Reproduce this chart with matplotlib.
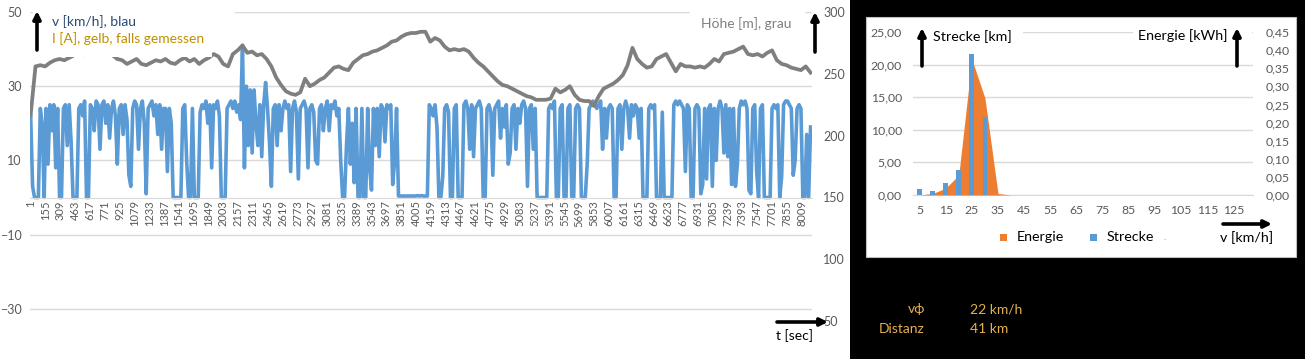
import numpy as np
import matplotlib
matplotlib.use('Agg')
import matplotlib.pyplot as plt
from matplotlib.patches import Rectangle, FancyArrowPatch
from matplotlib.ticker import FuncFormatter

plt.rcParams['font.family'] = ['Lato', 'DejaVu Sans']

# ---------------- data: time series (left chart) ----------------
speed_step = 20      # seconds between stored speed samples
speed_kmh = [
    22, 3, 0, 0, 0, 24, 20, 0, 24, 9, 25, 18, 25, 8, 24, 0, 0, 24, 25, 14,
    25, 15, 0, 0, 0, 24, 25, 22, 26, 0, 0, 25, 24, 18, 26, 25, 13, 25, 26, 20,
    25, 16, 24, 26, 22, 9, 24, 25, 17, 25, 21, 6, 3, 24, 26, 25, 13, 24, 26, 20,
    1, 24, 25, 26, 22, 25, 17, 25, 13, 24, 24, 7, 24, 20, 0, 0, 0, 0, 0, 24,
    25, 10, 0, 0, 24, 0, 0, 0, 23, 25, 24, 26, 20, 25, 8, 25, 24, 26, 22, 0,
    0, 0, 24, 25, 26, 24, 26, 23, 25, 21, 41, 8, 30, 14, 29, 12, 29, 20, 14, 25,
    11, 25, 31, 24, 15, 3, 24, 25, 14, 25, 18, 24, 26, 24, 25, 7, 24, 26, 23, 5,
    24, 25, 26, 24, 8, 24, 25, 23, 10, 9, 24, 25, 18, 24, 26, 18, 25, 24, 26, 22,
    24, 10, 0, 0, 14, 24, 9, 20, 4, 24, 0, 0, 24, 0, 0, 24, 8, 2, 24, 14,
    24, 11, 25, 24, 15, 25, 24, 25, 3.5, 10, 24, 0.4, 0.4, 0.4, 0.4, 0.4, 0.4, 0.4, 0.4, 0.4,
    0.4, 0.5, 0.4, 0.5, 0.4, 0.4, 0.4, 25, 24, 22, 25, 19, 0, 0, 5.7, 24, 25, 23, 0, 0,
    24, 25, 0, 0, 0, 25, 26, 24, 13, 25, 11, 24, 25, 26, 24, 0, 0, 24, 25, 23,
    6, 24, 25, 26, 16, 24, 19, 25, 9, 12, 24, 25, 13, 24, 20, 25, 26, 24, 3, 24,
    25, 13, 24, 0, 0, 0, 0, 0, 0, 24, 25, 24, 26, 0, 0, 24, 25, 0, 0, 24,
    25, 0, 0, 24, 25, 24, 0, 0, 0, 9, 24, 25, 26, 25, 24, 25, 26, 13, 24, 16,
    24, 25, 24, 0, 0, 24, 25, 13, 24, 26, 24, 16, 25, 22, 25, 24, 16, 24, 0, 0,
    0, 24, 25, 24, 25, 0, 0, 0, 23, 0, 0, 0, 0, 0, 25, 26, 25, 26, 25, 24,
    7, 25, 24, 0, 0, 24, 25, 24, 1, 3.5, 24, 5, 24, 25, 3, 24, 10, 24, 26, 24,
    12, 25, 11, 24, 3.5, 24, 3, 9, 24, 26, 25, 26, 24, 2, 1, 24, 25, 7, 0, 24,
    25, 0, 0, 0, 0, 24, 25, 24, 25, 0, 5.7, 25, 26, 26, 25, 24, 6, 10, 24, 25,
    24, 0, 0, 17, 0, 19,
]

height_step = 50     # seconds between stored height samples
height_m = [
    217, 256, 257, 256, 259, 261, 262, 261, 263, 265,
    266, 265, 267, 266, 268, 266, 267, 265, 262, 261,
    258, 260, 262, 258, 257, 259, 261, 260, 262, 259,
    258, 261, 263, 260, 262, 258, 261, 263, 266, 264,
    258, 256, 266, 269, 273, 267, 268, 265, 266, 262,
    256, 247, 241, 236, 234, 233, 235, 246, 240, 242,
    245, 247, 251, 255, 256, 254, 253, 259, 262, 265,
    266, 268, 269, 271, 273, 276, 277, 280, 282, 283,
    283, 284, 284, 276, 279, 277, 272, 269, 270, 269,
    270, 268, 263, 259, 256, 252, 248, 244, 241, 240,
    238, 236, 234, 232, 231, 229, 229, 229, 230, 238,
    235, 237, 240, 233, 229, 228, 228, 224, 232, 238,
    240, 242, 245, 249, 257, 271, 262, 258, 255, 256,
    262, 264, 266, 259, 252, 258, 256, 256, 255, 256,
    255, 258, 262, 260, 266, 267, 268, 270, 272, 266,
    265, 266, 264, 267, 269, 261, 258, 257, 255, 254,
    253, 256, 251,
]

time_tick_labels = [1, 155, 309, 463, 617, 771, 925, 1079, 1233, 1387, 1541,
                    1695, 1849, 2003, 2157, 2311, 2465, 2619, 2773, 2927, 3081,
                    3235, 3389, 3543, 3697, 3851, 4005, 4159, 4313, 4467, 4621,
                    4775, 4929, 5083, 5237, 5391, 5545, 5699, 5853, 6007, 6161,
                    6315, 6469, 6623, 6777, 6931, 7085, 7239, 7393, 7547, 7701,
                    7855, 8009]
speed_axis_ticks = [-30, -10, 10, 30, 50]
height_axis_ticks = [50, 100, 150, 200, 250, 300]

# ---------------- data: histogram (right chart) ----------------
speed_classes = [5, 10, 15, 20, 25, 30, 35, 40, 45, 50, 55, 60, 65, 70, 75,
                 80, 85, 90, 95, 100, 105, 110, 115, 120, 125, 130]
strecke_km = [0.9, 0.6, 1.8, 3.8, 21.6, 11.9, 0.0, 0.0, 0.0, 0.0, 0.0, 0.0, 0.0,
              0.0, 0.0, 0.0, 0.0, 0.0, 0.0, 0.0, 0.0, 0.0, 0.0, 0.0, 0.0, 0.0]
energie_kwh = [0.0, 0.004, 0.019, 0.055, 0.375, 0.268, 0.004, 0.0, 0.0, 0.0,
               0.0, 0.0, 0.0, 0.0, 0.0, 0.0, 0.0, 0.0, 0.0, 0.0, 0.0, 0.0, 0.0,
               0.0, 0.0, 0.0]

summary_labels = ['v\u03d5', 'Distanz']
summary_values = ['22 km/h', '41 km']

# ---------------- layout helpers ----------------
W, H = 1305, 359
fig = plt.figure(figsize=(W / 100, H / 100), dpi=100)
fig.patch.set_facecolor('white')


def rect(x0, y0, x1, y1):
    return [x0 / W, 1 - y1 / H, (x1 - x0) / W, (y1 - y0) / H]


def fx(x):
    return x / W


def fy(y):
    return 1 - y / H


def box(x0, y0, x1, y1, fc, ec='none', z=1, lw=0):
    fig.add_artist(Rectangle((fx(x0), fy(y1)), (x1 - x0) / W, (y1 - y0) / H,
                             transform=fig.transFigure, facecolor=fc,
                             edgecolor=ec, lw=lw, zorder=z))


def arrow(x0, y0, x1, y1):
    fig.add_artist(FancyArrowPatch((fx(x0), fy(y0)), (fx(x1), fy(y1)),
                                   transform=fig.transFigure,
                                   arrowstyle='-|>', mutation_scale=11,
                                   lw=2.6, color='black', zorder=4,
                                   shrinkA=0, shrinkB=0))


GRID = '#D9D9D9'
TICK = '#595959'

# ---------------- left chart ----------------
ax = fig.add_axes(rect(30, 12, 812, 383))
ax.set_xlim(-6, 8116)
ax.set_ylim(-50, 50)
t_speed = 1 + speed_step * np.arange(len(speed_kmh))
ax.plot(t_speed, speed_kmh, color='#5B9BD5', lw=2.6, solid_joinstyle='round')
ax.set_yticks(speed_axis_ticks)
ax.yaxis.grid(True, color=GRID, lw=1)
ax.set_axisbelow(True)
for s in ['top', 'right', 'left']:
    ax.spines[s].set_visible(False)
ax.spines['bottom'].set_position(('data', 0))
ax.spines['bottom'].set_color(GRID)
ax.set_xticks(time_tick_labels)
ax.set_xticklabels([str(v) for v in time_tick_labels], rotation=90)
ax.tick_params(axis='x', length=0, pad=2, labelsize=8, labelcolor=TICK)
ax.tick_params(axis='y', length=0, pad=6, labelsize=9, labelcolor=TICK)

ax2 = ax.twinx()
ax2.set_ylim(0, 300)
ax2.set_yticks(height_axis_ticks)
t_height = 1 + height_step * np.arange(len(height_m))
ax2.plot(t_height, height_m, color='#7F7F7F', lw=2.7, solid_joinstyle='round')
for s in ax2.spines.values():
    s.set_visible(False)
ax2.tick_params(axis='y', length=0, pad=8, labelsize=9, labelcolor=TICK)

# text boxes over the left chart
box(33, 3, 235, 30, 'white')
box(45, 30, 212, 57, 'white')
box(690, 3, 805, 36, 'white')
fig.text(fx(52), fy(22), 'v [km/h], blau', color='#2B4A72', fontsize=10,
         va='center', ha='left', zorder=3)
fig.text(fx(52), fy(39), 'I [A], gelb, falls gemessen', color='#BF9000',
         fontsize=10, va='center', ha='left', zorder=3)
fig.text(fx(791), fy(24), 'Höhe [m], grau', color='#7F7F7F', fontsize=10,
         va='center', ha='right', zorder=3)
fig.text(fx(795), fy(336), 't [sec]', color='black', fontsize=10,
         va='center', ha='center', zorder=3)
arrow(37, 50, 37, 11)
arrow(815, 52, 815, 12)
arrow(777, 322, 828, 322)

# ---------------- right panel ----------------
box(850, 0, 1305, 359, 'black', z=-3)
box(866, 17, 1296, 257, 'white', ec='#BFBFBF', lw=0.8, z=-2)

axh = fig.add_axes(rect(913, 32, 1253, 195))
idx = np.arange(len(speed_classes))
axh.set_xlim(-0.5, len(speed_classes) - 0.5)
axh.set_ylim(0, 25)
axh.set_yticks(range(0, 26, 5))
axh.yaxis.set_major_formatter(FuncFormatter(lambda v, p: f'{v:.2f}'.replace('.', ',')))
axh.yaxis.grid(True, color=GRID, lw=1)
axh.set_axisbelow(True)
for s in ['top', 'right', 'left']:
    axh.spines[s].set_visible(False)
axh.spines['bottom'].set_color(GRID)
axh.set_xticks(idx[::2])
axh.set_xticklabels([str(c) for c in speed_classes[::2]])
axh.tick_params(axis='x', length=0, pad=7, labelsize=8.8, labelcolor=TICK)
axh.tick_params(axis='y', length=0, pad=8, labelsize=8.8, labelcolor=TICK)

axe = axh.twinx()
axe.set_ylim(0, 0.45)
axe.set_yticks(np.arange(0, 0.451, 0.05))
axe.yaxis.set_major_formatter(FuncFormatter(lambda v, p: f'{v:.2f}'.replace('.', ',')))
axe.fill_between(idx, energie_kwh, 0, color='#ED7D31', lw=0)
for s in axe.spines.values():
    s.set_visible(False)
axe.tick_params(axis='y', length=0, pad=9, labelsize=8.8, labelcolor=TICK)

axb = axh.twinx()
axb.set_ylim(0, 25)
axb.bar(idx, strecke_km, width=0.36, color='#5B9BD5')
axb.set_axis_off()

box(905, 22, 1023, 42, 'white')
box(1133, 22, 1252, 42, 'white')
fig.text(fx(933), fy(37), 'Strecke [km]', color='black', fontsize=10.3,
         va='center', ha='left', zorder=3)
fig.text(fx(1228), fy(36), 'Energie [kWh]', color='black', fontsize=10.3,
         va='center', ha='right', zorder=3)
arrow(922, 66, 922, 28)
arrow(1237, 66, 1237, 28)

# legend
box(999.5, 233.5, 1006.5, 240.5, '#ED7D31', z=3)
fig.text(fx(1017), fy(237), 'Energie', color='black', fontsize=10.3,
         va='center', ha='left', zorder=3)
box(1089.5, 233.5, 1096.5, 240.5, '#5B9BD5', z=3)
fig.text(fx(1107), fy(237), 'Strecke', color='black', fontsize=10.3,
         va='center', ha='left', zorder=3)
fig.text(fx(1165), fy(237), '.', color='#7F7F7F', fontsize=7,
         va='center', ha='center', zorder=3)
fig.text(fx(1247), fy(238), 'v [km/h]', color='black', fontsize=10.3,
         va='center', ha='center', zorder=3)
arrow(1223, 224, 1272, 224)

# summary text
GOLD = '#E3B04E'
for i, (lab, val) in enumerate(zip(summary_labels, summary_values)):
    y = 309 + 20 * i
    fig.text(fx(925), fy(y), lab, color=GOLD, fontsize=10, va='center',
             ha='right')
    fig.text(fx(970), fy(y), val, color=GOLD, fontsize=10, va='center',
             ha='left')

fig.savefig('out.png', dpi=100, facecolor='white')
